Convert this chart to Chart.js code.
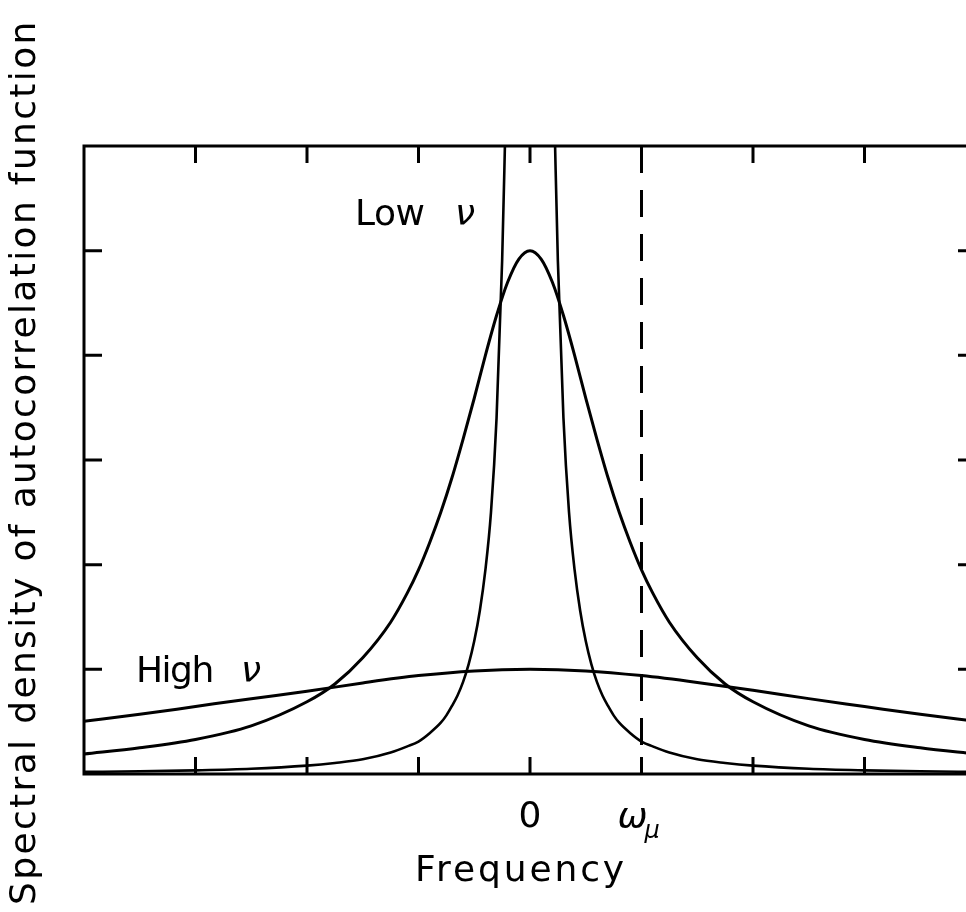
<!DOCTYPE html>
<html>
<head>
<meta charset="utf-8">
<script src="https://cdn.jsdelivr.net/npm/chart.js@4/dist/chart.umd.min.js"></script>
<style>
  html, body { margin: 0; padding: 0; background: #fff; overflow: hidden; width: 966px; height: 912px; }
  #wrap { position: relative; width: 1000px; height: 912px; }
</style>
</head>
<body>
<div id="wrap"><canvas id="c" width="1000" height="912"></canvas></div>
<script>
// Spectral density curves: low, intermediate and high collision frequency ν
const freqLow = [-4, -3.5, -3, -2.5, -2, -1.75, -1.5, -1.25, -1.1, -1, -0.9, -0.8, -0.75, -0.7, -0.65, -0.6, -0.55, -0.5, -0.45, -0.4,
                 -0.35, -0.3, -0.25, -0.225, -0.2, -0.15, -0.1, 0,
                 0.1, 0.15, 0.2, 0.225, 0.25, 0.3, 0.35, 0.4, 0.45, 0.5, 0.55, 0.6, 0.65, 0.7, 0.75, 0.8, 0.9, 1, 1.1, 1.25,
                 1.5, 1.75, 2, 2.5, 3, 3.5, 4];
const densLow = [0.02, 0.026, 0.035, 0.05, 0.08, 0.105, 0.14, 0.205, 0.264, 0.31, 0.39, 0.49, 0.56, 0.65, 0.75, 0.88, 1.05, 1.27, 1.56, 1.95,
                 2.5, 3.4, 4.9, 6.0, 7.2, 13, 25, 95,
                 25, 13, 7.2, 6.0, 4.9, 3.4, 2.5, 1.95, 1.56, 1.27, 1.05, 0.88, 0.75, 0.65, 0.56, 0.49, 0.39, 0.31, 0.264, 0.205,
                 0.14, 0.105, 0.08, 0.05, 0.035, 0.026, 0.02];

const freqMid = [-4, -3.5, -3, -2.5, -2, -1.75, -1.5, -1.25, -1.1, -1, -0.9, -0.8, -0.7, -0.6, -0.5, -0.4, -0.3, -0.2, -0.1, 0,
                 0.1, 0.2, 0.3, 0.4, 0.5, 0.6, 0.7, 0.8, 0.9, 1, 1.1, 1.25, 1.5, 1.75, 2, 2.5, 3, 3.5, 4];
const densMid = [0.19, 0.25, 0.33, 0.46, 0.69, 0.86, 1.11, 1.45, 1.73, 1.95, 2.21, 2.5, 2.83, 3.2, 3.59, 4.0, 4.38, 4.70, 4.92, 5.0,
                 4.92, 4.70, 4.38, 4.0, 3.59, 3.2, 2.83, 2.5, 2.21, 1.95, 1.73, 1.45, 1.11, 0.86, 0.69, 0.46, 0.33, 0.25, 0.19];

const freqHigh = [-4, -3.5, -3, -2.5, -2, -1.5, -1, -0.5, 0, 0.5, 1, 1.5, 2, 2.5, 3, 3.5, 4];
const densHigh = [0.505, 0.57, 0.645, 0.72, 0.79, 0.87, 0.94, 0.985, 1.0, 0.985, 0.94, 0.875, 0.80, 0.72, 0.645, 0.57, 0.505];

// ω_μ marker
const omegaMu = 1;

// Axis ranges and tick positions
const xRange = [-4, 4];
const yRange = [0, 6];
const xTicks = [-3, -2, -1, 0, 1, 2, 3];
const yTicks = [1, 2, 3, 4, 5];

const toPoints = (xs, ys) => xs.map((x, i) => ({ x: x, y: ys[i] }));

const FONT = '"DejaVu Sans", sans-serif';

const framePlugin = {
  id: 'frameAndTicks',
  afterDatasetsDraw(chart) {
    const { ctx, chartArea: a, scales: { x, y } } = chart;
    const tick = 17;
    ctx.save();
    ctx.strokeStyle = '#000';
    ctx.lineWidth = 3;
    ctx.lineCap = 'butt';
    ctx.strokeRect(a.left, a.top, a.right - a.left, a.bottom - a.top);
    ctx.beginPath();
    xTicks.forEach(v => {
      const px = x.getPixelForValue(v);
      ctx.moveTo(px, a.bottom); ctx.lineTo(px, a.bottom - tick);
      ctx.moveTo(px, a.top); ctx.lineTo(px, a.top + tick);
    });
    yTicks.forEach(v => {
      const py = y.getPixelForValue(v);
      ctx.moveTo(a.left, py); ctx.lineTo(a.left + tick + 1, py);
      ctx.moveTo(a.right, py); ctx.lineTo(a.right - tick - 1, py);
    });
    ctx.stroke();
    ctx.restore();
  }
};

const labelPlugin = {
  id: 'labels',
  afterDraw(chart) {
    const { ctx, scales: { x } } = chart;
    ctx.save();
    ctx.fillStyle = '#000';
    ctx.textBaseline = 'alphabetic';
    ctx.textAlign = 'left';

    const put = (text, px, py, size, style, spacing) => {
      ctx.font = (style || '') + ' ' + size + 'px ' + FONT;
      ctx.letterSpacing = (spacing || 0) + 'px';
      ctx.fillText(text, px, py);
    };

    // curve annotations
    put('Low', 355, 225, 36, '', -0.5);
    put('ν', 455, 225, 36, 'italic', 0);
    put('High', 136, 682, 36, '', -1.5);
    put('ν', 241, 682, 36, 'italic', 0);

    // x tick labels
    ctx.textAlign = 'center';
    put('0', x.getPixelForValue(0), 827, 36, '', 0);
    ctx.textAlign = 'left';
    const wx = x.getPixelForValue(omegaMu);
    put('ω', wx - 24, 828, 36, 'italic', 0);
    put('μ', wx + 3, 838, 24, 'italic', 0);

    // axis titles
    put('Frequency', 415, 881, 36, '', 2.9);
    ctx.translate(35, 905);
    ctx.rotate(-Math.PI / 2);
    put('Spectral density of autocorrelation function', 0, 0, 36, '', 2.35);
    ctx.restore();
  }
};

new Chart(document.getElementById('c'), {
  type: 'line',
  data: {
    datasets: [
      { label: 'Low ν', data: toPoints(freqLow, densLow), borderColor: '#000', borderWidth: 2.6, cubicInterpolationMode: 'monotone' },
      { label: 'Intermediate ν', data: toPoints(freqMid, densMid), borderColor: '#000', borderWidth: 3, cubicInterpolationMode: 'monotone' },
      { label: 'High ν', data: toPoints(freqHigh, densHigh), borderColor: '#000', borderWidth: 3, cubicInterpolationMode: 'monotone' },
      { label: 'ω_μ', data: [{ x: omegaMu, y: yRange[1] }, { x: omegaMu, y: yRange[0] }], borderColor: '#000', borderWidth: 3, borderDash: [27, 17], tension: 0 }
    ]
  },
  options: {
    responsive: false,
    animation: false,
    layout: { padding: { left: 84, top: 146, right: 24, bottom: 138 } },
    elements: { point: { radius: 0 }, line: { fill: false, borderJoinStyle: 'round' } },
    plugins: { legend: { display: false }, tooltip: { enabled: false } },
    scales: {
      x: { type: 'linear', min: xRange[0], max: xRange[1], display: false },
      y: { type: 'linear', min: yRange[0], max: yRange[1], display: false }
    }
  },
  plugins: [framePlugin, labelPlugin]
});
</script>
</body>
</html>
